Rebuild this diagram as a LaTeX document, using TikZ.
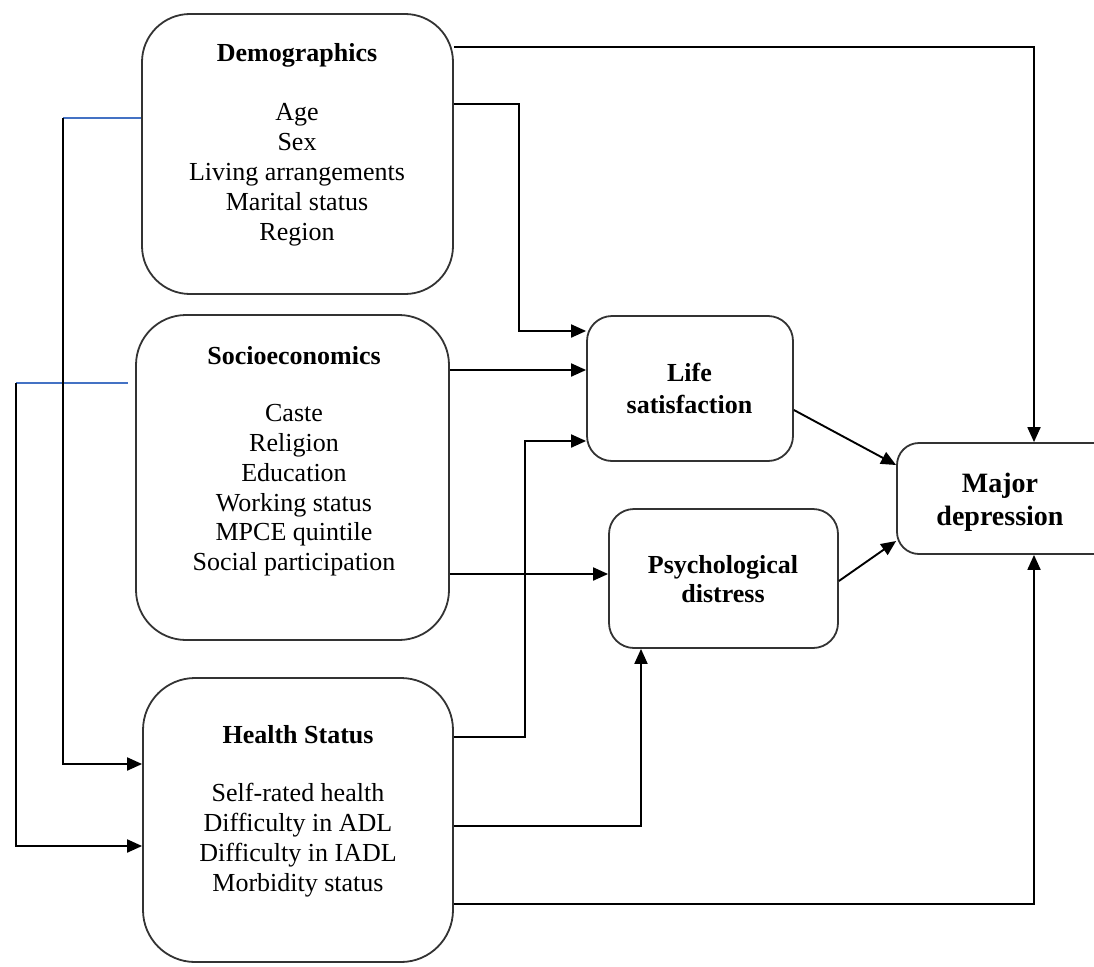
\documentclass[tikz,border=0pt]{standalone}
\usepackage{fontspec}
\setmainfont{Liberation Serif}
\usetikzlibrary{arrows.meta}
\definecolor{lineblue}{HTML}{4472C4}
\begin{document}
\begin{tikzpicture}[x=1pt,y=-1pt,
  box/.style={draw=black!80, line width=1.8pt, rounded corners=#1, inner sep=0pt, shape=rectangle},
  txt/.style={anchor=north, align=center, inner sep=0pt, font=\fontsize{26}{30}\selectfont},
  arr/.style={draw=black, line width=1.9pt, -{Triangle[length=15pt,width=13pt]}},
  blueline/.style={draw=lineblue, line width=1.9pt}
]
\clip (0,0) rectangle (1094,966);
\useasboundingbox (0,0) rectangle (1094,966);

% boxes
\node[box=48pt, minimum width=311pt, minimum height=280pt] (demo) at (297.5,154) {};
\node[box=50pt, minimum width=313pt, minimum height=325pt] (socio) at (292.5,477.5) {};
\node[box=52pt, minimum width=310pt, minimum height=284pt] (health) at (298,820) {};
\node[box=25pt, minimum width=206pt, minimum height=145pt] (life) at (690,388.5) {};
\node[box=25pt, minimum width=229pt, minimum height=139pt] (psych) at (723.5,578.5) {};
\node[box=22pt, minimum width=240pt, minimum height=111pt] (major) at (1017,498.5) {};

% texts
\node[txt] (demoT) at (297,43) {\textbf{Demographics}\\[29pt]Age\\Sex\\Living arrangements\\Marital status\\Region};
\node[txt, font=\fontsize{26}{29.7}\selectfont] (socioT) at (294,346) {\textbf{Socioeconomics}\\[28pt]Caste\\Religion\\Education\\Working status\\MPCE quintile\\Social participation};
\node[txt, font=\fontsize{26}{29.7}\selectfont] (healthT) at (298,725) {\textbf{Health Status}\\[29pt]Self-rated health\\Difficulty in ADL\\Difficulty in IADL\\Morbidity status};
\node[txt, font=\fontsize{26}{32}\selectfont\bfseries] (lifeT) at (689.5,363) {Life\\satisfaction};
\node[txt, font=\fontsize{26}{29.5}\selectfont\bfseries] (psychT) at (723,555) {Psychological\\distress};
\node[txt, font=\fontsize{28}{33}\selectfont\bfseries] (majorT) at (1000,473) {Major\\depression};

% connectors
\draw[arr] (demo.east |- 0,47) -| (1034,0 |- major.north);
\draw[arr] (demo.east |- 0,104) -| (519,331) -- (life.west |- 0,331);
\draw[arr] (socio.east |- 0,370) -- (life.west |- 0,370);
\draw[arr] (health.east |- 0,737) -| (525,441) -- (life.west |- 0,441);
\draw[arr] (socio.east |- 0,574) -- (psych.west |- 0,574);
\draw[arr] (health.east |- 0,826) -| (641,0 |- psych.south);
\draw[arr] (health.east |- 0,904) -| (1034,0 |- major.south);
\draw[arr] (life.east |- 0,410) -- (major.west |- 0,465);
\draw[arr] (psych.east |- 0,581) -- (major.west |- 0,541);

% left feedback lines
\coordinate (a1) at (63,118);
\coordinate (a2) at (16,383);
\coordinate (a2e) at (128,383);
\draw[blueline] (a1) -- (demo.west |- a1);
\draw[blueline] (a2) -- (a2e);
\draw[arr] (a1) |- (health.west |- 0,764);
\draw[arr] (a2) |- (health.west |- 0,846);
\end{tikzpicture}
\end{document}
